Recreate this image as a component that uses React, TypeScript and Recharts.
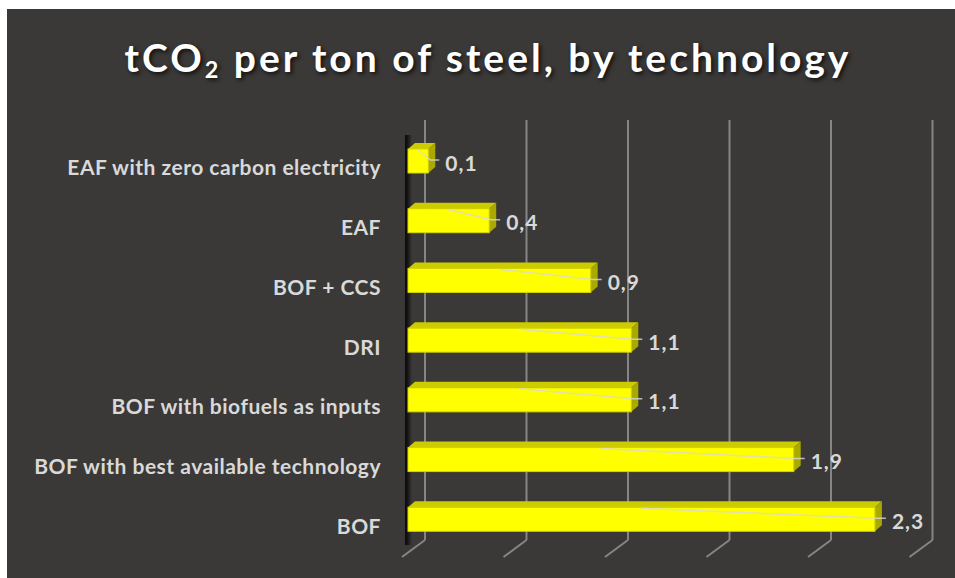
import { BarChart, Bar, XAxis, YAxis, CartesianGrid } from 'recharts'

const categories = [
  'EAF with zero carbon electricity',
  'EAF',
  'BOF + CCS',
  'DRI',
  'BOF with biofuels as inputs',
  'BOF with best available technology',
  'BOF',
]
const emissions = [0.1, 0.4, 0.9, 1.1, 1.1, 1.9, 2.3]
const gridTicks = [0, 0.5, 1, 1.5, 2, 2.5]
const xMax = 2.5

const chartData = categories.map((name, i) => ({ name, value: emissions[i] }))

const BG = '#3a3937'
const TEXT = '#d9d9d9'
const FONT = 'Lato, "Open Sans", sans-serif'

// 3D offsets, as Excel draws them
const DEPTH_X = 7
const DEPTH_Y = 6

const Bar3D = (props: any) => {
  const { x, y, width, height } = props
  if (width == null || height == null) return null
  return (
    <g>
      <polygon
        points={`${x},${y} ${x + DEPTH_X},${y - DEPTH_Y} ${x + width + DEPTH_X},${y - DEPTH_Y} ${x + width},${y}`}
        fill="#cccc00"
      />
      <polygon
        points={`${x + width},${y} ${x + width + DEPTH_X},${y - DEPTH_Y} ${x + width + DEPTH_X},${y + height - DEPTH_Y} ${x + width},${y + height}`}
        fill="#a9a900"
      />
      <rect x={x} y={y} width={width} height={height} fill="#ffff00" stroke="#d6d600" strokeWidth={1} />
    </g>
  )
}

const ValueLabel = (props: any) => {
  const { x, y, width, height, value } = props
  const endX = x + width
  const midY = y + height / 2
  return (
    <g>
      <path
        d={`M${x + width / 2},${y + 1} L${endX + 2},${midY - 1} L${endX + 11},${midY - 1}`}
        stroke={TEXT}
        strokeOpacity={0.8}
        strokeWidth={1.5}
        fill="none"
      />
      <text
        x={endX + 17}
        y={midY + 1}
        dominantBaseline="central"
        fill={TEXT}
        fontFamily={FONT}
        fontWeight={700}
        fontSize={21}
        letterSpacing={1}
      >
        {Number(value).toFixed(1).replace('.', ',')}
      </text>
    </g>
  )
}

const CategoryTick = (props: any) => {
  const { x, y, payload } = props
  return (
    <text
      x={x}
      y={y + 6}
      textAnchor="end"
      dominantBaseline="central"
      fill={TEXT}
      fontFamily={FONT}
      fontWeight={700}
      fontSize={21}
      letterSpacing={0.5}
    >
      {payload.value}
    </text>
  )
}

// gridlines sit on the back wall; the floor edge runs diagonally to the front
const GridLine = (props: any) => {
  const { x1, y1, y2, index } = props
  const bx = x1 + 17
  const top = y1 - 11
  const bot = y2 - 9
  return (
    <g key={props.key}>
      {index === 0 && (
        <rect x={x1 - 3} y={y1 + 4} width={7} height={y2 - y1 - 8} fill="url(#wallGrad)" />
      )}
      <line x1={bx} y1={top} x2={bx} y2={bot} stroke="#858585" strokeWidth={2} />
      <line x1={bx} y1={bot} x2={bx - 23} y2={bot + 17} stroke="#858585" strokeWidth={2} />
    </g>
  )
}

const gridX = ({ offset }: any) => gridTicks.map((t) => offset.left + (t / xMax) * offset.width)

export default function App() {
  return (
    <div style={{ position: 'absolute', left: 0, top: 0, width: 955, height: 578, background: '#ffffff' }}>
      <div style={{ position: 'absolute', left: 7, top: 9, right: 0, bottom: 0, background: BG }} />
      <div
        style={{
          position: 'absolute',
          left: 14,
          width: 948,
          top: 38,
          textAlign: 'center',
          color: '#ffffff',
          fontFamily: FONT,
          fontWeight: 700,
          fontSize: 39,
          lineHeight: '39px',
          letterSpacing: 3,
          textShadow: '2px 2px 4px rgba(0,0,0,0.75)',
          whiteSpace: 'nowrap',
        }}
      >
        tCO<span style={{ fontSize: '0.6em', position: 'relative', top: '0.25em' }}>2</span> per ton of steel, by technology
      </div>
      <div style={{ position: 'absolute', left: 0, top: 0 }}>
        <BarChart
          width={955}
          height={578}
          data={chartData}
          layout="vertical"
          margin={{ top: 131, right: 39.5, bottom: 29, left: 0 }}
          barSize={24}
        >
          <defs>
            <linearGradient id="wallGrad" x1="0" y1="0" x2="1" y2="0">
              <stop offset="0%" stopColor="#0a0a0a" />
              <stop offset="35%" stopColor="#141414" />
              <stop offset="100%" stopColor={BG} />
            </linearGradient>
          </defs>
          <CartesianGrid horizontal={false} vertical={GridLine} verticalCoordinatesGenerator={gridX} />
          <XAxis
            type="number"
            domain={[0, xMax]}
            ticks={gridTicks}
            height={0}
            tick={false}
            axisLine={false}
            tickLine={false}
          />
          <YAxis
            type="category"
            dataKey="name"
            width={408}
            axisLine={false}
            tickLine={false}
            tickSize={0}
            tickMargin={27}
            tick={<CategoryTick />}
          />
          <Bar dataKey="value" shape={<Bar3D />} label={<ValueLabel />} isAnimationActive={false} />
        </BarChart>
      </div>
    </div>
  )
}
